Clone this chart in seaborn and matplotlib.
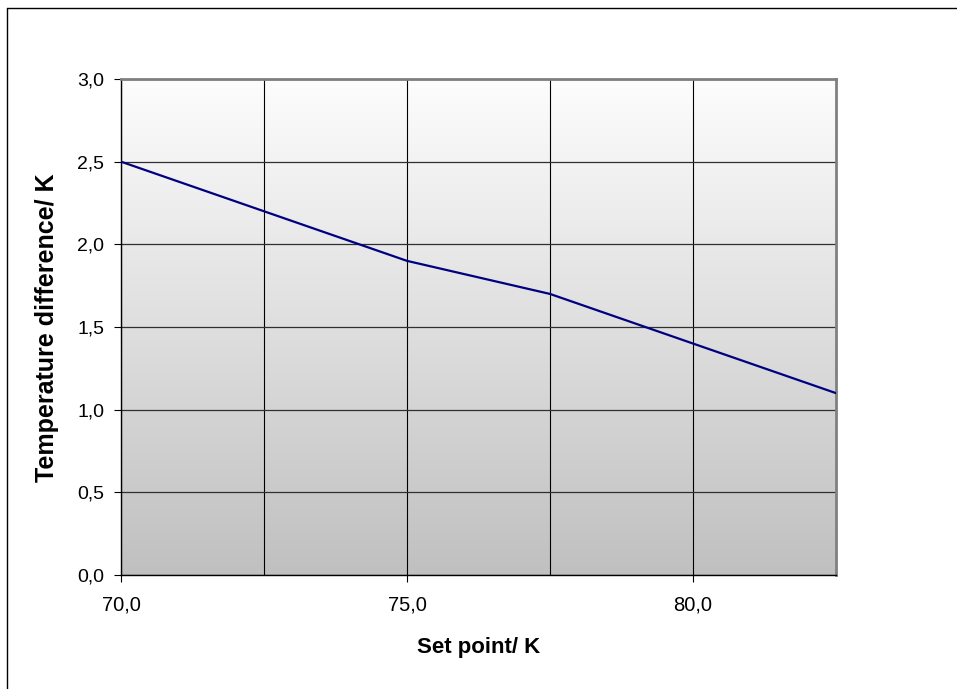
import numpy as np
import pandas as pd
import matplotlib
matplotlib.use("Agg")
import matplotlib.pyplot as plt
import seaborn as sns
from matplotlib.ticker import FuncFormatter, MultipleLocator, FixedLocator
from matplotlib.colors import LinearSegmentedColormap

set_point = [70.0, 72.5, 75.0, 77.5, 80.0, 82.5]
temp_diff = [2.5, 2.2, 1.9, 1.7, 1.4, 1.1]
x_label = "Set point/ K"
y_label = "Temperature difference/ K"

df = pd.DataFrame({"x": set_point, "y": temp_diff})

sns.set_theme(style="white")
plt.rcParams["font.family"] = ["Liberation Sans", "DejaVu Sans"]
plt.rcParams["text.color"] = "black"
plt.rcParams["xtick.color"] = "black"
plt.rcParams["ytick.color"] = "black"

W, H = 957, 689
fig = plt.figure(figsize=(W / 100, H / 100), dpi=100)
L, R, T, B = 121, 836, 79, 575
ax = fig.add_axes([L / W, 1 - B / H, (R - L) / W, (B - T) / H])

# gradient background (light at top, gray at bottom)
grad = np.linspace(0, 1, 256).reshape(-1, 1)
cmap = LinearSegmentedColormap.from_list("g", ["#fdfdfd", "#c0c0c0"])
ax.imshow(grad, aspect="auto", cmap=cmap, extent=[0, 1, 0, 1], origin="upper",
          transform=ax.transAxes, zorder=0)

ax.set_xlim(70, 82.5)
ax.set_ylim(0, 3.0)

sns.lineplot(data=df, x="x", y="y", ax=ax, color="#000080", linewidth=1.6, zorder=5)

fmt = FuncFormatter(lambda v, p: f"{v:.1f}".replace(".", ","))
ax.xaxis.set_major_locator(FixedLocator([70, 75, 80]))
ax.xaxis.set_minor_locator(FixedLocator([72.5, 77.5]))
ax.yaxis.set_major_locator(MultipleLocator(0.5))
ax.xaxis.set_major_formatter(fmt)
ax.yaxis.set_major_formatter(fmt)

ax.grid(True, which="both", axis="x", color="black", linewidth=0.8)
ax.grid(True, which="major", axis="y", color="#303030", linewidth=0.9)
for gl in ax.get_xgridlines() + ax.get_ygridlines():
    gl.set_zorder(2)

ax.tick_params(axis="both", which="major", direction="out", length=5, width=0.8,
               color="black", labelcolor="black", bottom=True, left=True)
ax.tick_params(axis="x", which="major", labelsize=14.5, pad=10)
ax.tick_params(axis="y", which="major", labelsize=14, pad=7)
ax.tick_params(axis="x", which="minor", length=0)

for s in ["left", "bottom"]:
    ax.spines[s].set_color("black")
    ax.spines[s].set_linewidth(1.0)
for s in ["top", "right"]:
    ax.spines[s].set_color("#808080")
    ax.spines[s].set_linewidth(2.0)
ax.set_xlabel("")
ax.set_ylabel("")

fig.text(478.5 / W, 1 - 648 / H, x_label, ha="center", va="center",
         fontsize=16, fontweight="bold", color="black")
fig.text(47 / W, 1 - 328 / H, y_label, ha="center", va="center",
         rotation=90, fontsize=18, fontweight="bold", color="black")

# outer frame (left and top)
fig.add_artist(plt.Line2D([7.5 / W, 7.5 / W], [0, 1 - 7.5 / H], color="black",
                          linewidth=1.0, transform=fig.transFigure))
fig.add_artist(plt.Line2D([7.5 / W, 1], [1 - 7.5 / H, 1 - 7.5 / H], color="black",
                          linewidth=1.0, transform=fig.transFigure))

fig.savefig("out.png", dpi=100, facecolor="white")
